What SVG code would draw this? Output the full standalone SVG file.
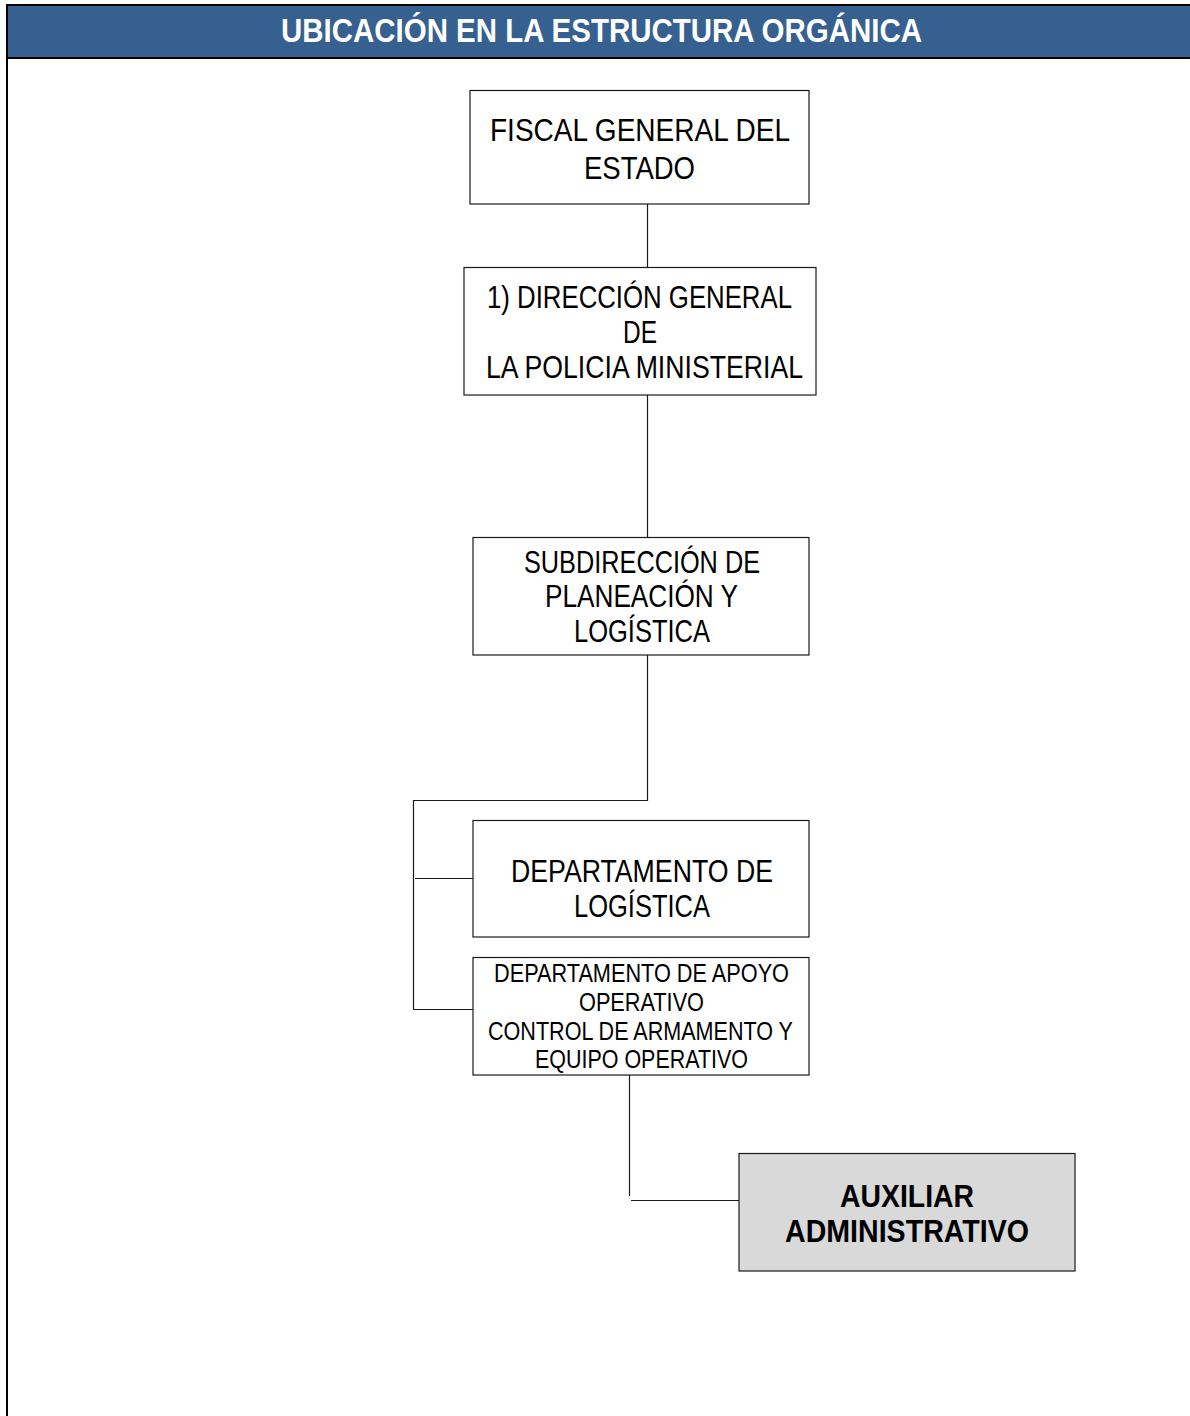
<svg xmlns="http://www.w3.org/2000/svg" width="1190" height="1416" viewBox="0 0 1190 1416">
  <style>
    .box { fill: #ffffff; stroke: #1a1a1a; stroke-width: 1.2; }
    .box.grey { fill: #d9d9d9; }
    .lbl { font-family: "Liberation Sans", "DejaVu Sans", sans-serif; font-size: 32px; fill: #000000; text-anchor: middle; }
    .lbl.small { font-size: 25px; }
    .lbl.bold { font-weight: bold; font-size: 31px; }
    .title { font-family: "Liberation Sans", "DejaVu Sans", sans-serif; font-weight: bold; font-size: 33px; fill: #ffffff; text-anchor: middle; }
    .wire { fill: none; stroke: #1a1a1a; stroke-width: 1.2; }
  </style>

  <rect x="0" y="0" width="1190" height="1416" fill="#ffffff"/>

  <!-- header band -->
  <g id="header">
    <rect x="7" y="5" width="1185" height="53" fill="#36608f" stroke="#000000" stroke-width="2"/>
    <text class="title" x="601.5" y="42" textLength="641" lengthAdjust="spacingAndGlyphs">UBICACIÓN EN LA ESTRUCTURA ORGÁNICA</text>
  </g>
  <!-- left page frame -->
  <line x1="7" y1="4" x2="7" y2="1416" stroke="#000000" stroke-width="2"/>

  <!-- connectors -->
  <g id="connectors">
    <line class="wire" x1="647.5" y1="204" x2="647.5" y2="267"/>
    <line class="wire" x1="647.5" y1="395" x2="647.5" y2="537"/>
    <polyline class="wire" points="647.5,655 647.5,800.5 413.5,800.5 413.5,1009.5 473,1009.5"/>
    <line class="wire" x1="415" y1="878.5" x2="473" y2="878.5"/>
    <line class="wire" x1="629.5" y1="1075" x2="629.5" y2="1196"/>
    <line class="wire" x1="631" y1="1200.5" x2="739" y2="1200.5"/>
  </g>

  <g id="fiscal">
    <rect class="box" x="470" y="90.5" width="339" height="113.5"/>
    <text class="lbl" x="640" y="141" textLength="300" lengthAdjust="spacingAndGlyphs">FISCAL GENERAL DEL</text>
    <text class="lbl" x="639.5" y="179" textLength="111" lengthAdjust="spacingAndGlyphs">ESTADO</text>
  </g>

  <g id="direccion">
    <rect class="box" x="464" y="267.5" width="352" height="127.5"/>
    <text class="lbl" x="639.5" y="308" textLength="305" lengthAdjust="spacingAndGlyphs">1) DIRECCIÓN GENERAL</text>
    <text class="lbl" x="640" y="343" textLength="34" lengthAdjust="spacingAndGlyphs">DE</text>
    <text class="lbl" x="644.5" y="378" textLength="317" lengthAdjust="spacingAndGlyphs">LA POLICIA MINISTERIAL</text>
  </g>

  <g id="subdireccion">
    <rect class="box" x="473" y="537.5" width="336" height="117.5"/>
    <text class="lbl" x="642" y="573" textLength="236" lengthAdjust="spacingAndGlyphs">SUBDIRECCIÓN DE</text>
    <text class="lbl" x="641.5" y="607" textLength="193" lengthAdjust="spacingAndGlyphs">PLANEACIÓN Y</text>
    <text class="lbl" x="642" y="642" textLength="136" lengthAdjust="spacingAndGlyphs">LOGÍSTICA</text>
  </g>

  <g id="depto-logistica">
    <rect class="box" x="473" y="820.5" width="336" height="116.5"/>
    <text class="lbl" x="642" y="882" textLength="262" lengthAdjust="spacingAndGlyphs">DEPARTAMENTO DE</text>
    <text class="lbl" x="642" y="917" textLength="136" lengthAdjust="spacingAndGlyphs">LOGÍSTICA</text>
  </g>

  <g id="depto-apoyo">
    <rect class="box" x="473" y="957.5" width="336" height="117.5"/>
    <text class="lbl small" x="641.5" y="982" textLength="295" lengthAdjust="spacingAndGlyphs">DEPARTAMENTO DE APOYO</text>
    <text class="lbl small" x="641.5" y="1011" textLength="125" lengthAdjust="spacingAndGlyphs">OPERATIVO</text>
    <text class="lbl small" x="640.5" y="1040" textLength="305" lengthAdjust="spacingAndGlyphs">CONTROL DE ARMAMENTO Y</text>
    <text class="lbl small" x="641.5" y="1068" textLength="213" lengthAdjust="spacingAndGlyphs">EQUIPO OPERATIVO</text>
  </g>

  <g id="auxiliar">
    <rect class="box grey" x="739" y="1153.5" width="336" height="117.5"/>
    <text class="lbl bold" x="907" y="1207" textLength="134" lengthAdjust="spacingAndGlyphs">AUXILIAR</text>
    <text class="lbl bold" x="907" y="1242" textLength="244" lengthAdjust="spacingAndGlyphs">ADMINISTRATIVO</text>
  </g>
</svg>
